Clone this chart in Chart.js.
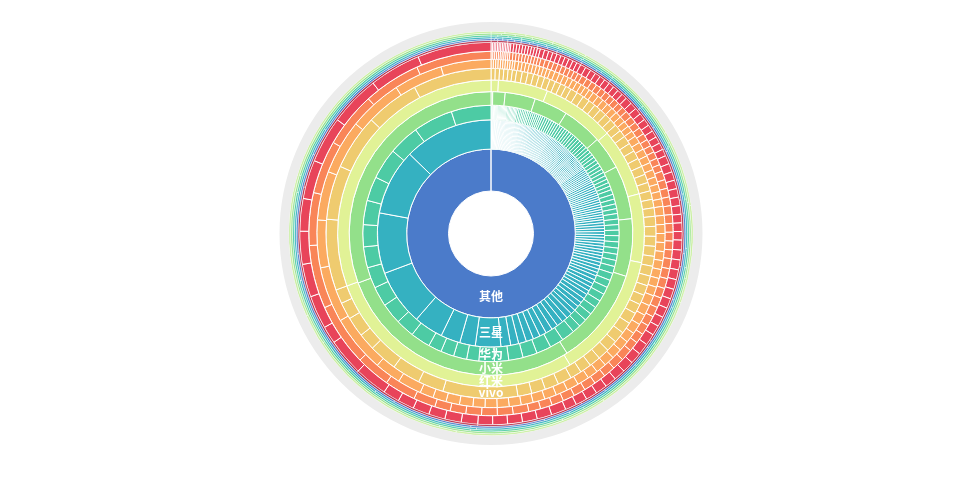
<!DOCTYPE html>
<html>
<head>
<meta charset="utf-8">
<script src="https://cdn.jsdelivr.net/npm/chart.js@4"></script>
<style>
html,body{margin:0;padding:0;background:#fff;}
</style>
</head>
<body>
<canvas id="c" width="980" height="500"></canvas>
<script>
// Ring names (inner to outer), shown at the bottom of each ring
const ringNames = ['其他', '三星', '华为', '小米', '红米', 'vivo'];

// Segment values per ring, clockwise from 12 o'clock (degrees of the ring)
const ring1 = [360];
const ring2 = [
  0.3,0.3,0.3,0.3,0.3,0.35,0.35,0.35,0.35,0.35,0.4,0.4,0.4,0.4,0.4,0.45,0.45,0.45,0.45,0.45,
  0.5,0.5,0.5,0.5,0.5,0.5,0.5,0.5,0.5,0.5,0.55,0.55,0.55,0.55,0.55,0.6,0.6,0.6,0.6,0.6,
  0.65,0.65,0.65,0.65,0.65,0.7,0.7,0.7,0.7,0.7,
  0.7,0.7,0.7,0.7,0.7,0.7,0.7,0.7,0.7,0.7,0.75,0.75,0.75,0.75,0.75,0.75,0.75,0.75,0.75,0.75,
  0.75,0.75,0.75,0.75,0.75,0.75,0.75,0.75,0.75,0.75,0.8,0.8,0.8,0.8,0.8,0.8,0.8,0.8,0.8,0.8,
  1,1,1,1,1,1,1,1,1.2,1.2,1.2,1.2,1.2,1.2,1.2,1.2,1.3,1.3,1.3,1.3,1.3,1.3,1.3,1.3,1.5,1.5,1.5,1.5,1.5,1.5,1.5,1.5,
  1.6,1.6,1.6,1.6,1.6,1.8,1.8,1.8,1.8,1.8,2.1,2.1,2.1,2.1,2.1,2.5,2.5,2.5,2.5,2.5,
  3,3,3.2,3.3,3.5,3.5,3.6,3.8,4,4.1,
  5,13,8,10,15,28.5,31,33.8,45.7
];
const ring3 = [
  0.4,0.4,0.4,0.4,0.4,0.4,0.4,0.4,0.5,0.5,0.5,0.5,0.5,0.5,0.5,0.5,0.6,0.6,0.6,0.6,0.6,0.6,0.6,0.6,
  0.8,0.8,0.8,0.8,0.8,0.8,0.8,0.9,0.9,0.9,0.9,0.9,0.9,0.9,1.1,1.1,1.1,1.1,1.1,1.1,1.1,1.2,1.2,1.2,1.2,1.2,1.2,1.2,
  1.3,1.3,1.3,1.3,1.3,1.4,1.4,1.4,1.4,1.4,1.6,1.6,1.6,1.6,1.6,1.7,1.7,1.7,1.7,1.7,
  2.2,2.2,2.2,2.2,2.2,2.5,2.5,2.5,2.5,2.8,2.8,2.8,2.8,2.8,
  3.2,3.3,3.4,3.4,3.5,3.5,3.6,3.6,3.7,3.8,
  6,6.3,6.7,
  6.5,6.5,6.5,7,5.5,6,6,6,9,8.5,9.5,9,9.5,9.5,10,11,11,14,14,18,18
];
const ring4 = [0.7,5.1,12.4,13.8,16.5,13.5,22,23.6,40,102,110.4];
const ring5 = [2.8,18.8,27.6,25.8,26,48,101,110];
const ring6 = [
  1.5,1.5,1.5,1.5,1.5,1.5,
  2,2,2,2,2,2,2,2,2,2,
  2.5,2.5,2.5,2.5,2.5,2.5,2.5,2.5,2.5,2.5,
  3,3,3,3,3,3,3,3,3,3,
  3.5,3.5,3.5,3.5,3.5,3.5,3.5,3.5,3.5,3.5,
  4,4,4,4,4,4,4,4,
  4.9,4.9,4.9,4.9,
  26.4,9,10,10,6,7,6,5,25,19,19.5,18.9,27.6
];
const ring7 = [
  0.8,0.8,0.8,0.8,0.8,0.8,0.8,0.8,0.8,0.8,
  1.2,1.2,1.2,1.2,1.2,1.2,1.2,1.2,1.2,1.2,
  1.6,1.6,1.6,1.6,1.6,1.6,1.6,1.6,1.6,1.6,
  2,2,2,2,2,2,2,2,2,2,
  2.5,2.5,2.5,2.5,2.5,2.5,2.5,2.5,2.5,2.5,
  3,3,3,3,3,3,3,3,3,3,
  3.5,3.5,3.5,3.5,3.5,3.5,3.5,3.5,3.5,3.5,
  4,4,4,4,4,4,4,4,4,4,
  4.5,4.5,4.5,4.5,
  8,8.8,19.2,18.6,15.9,16.3,18.2,18,16.3,16.7
];
const ring8 = [
  0.6,0.6,0.6,0.6,0.6,0.6,0.6,0.6,0.6,0.6,
  1,1,1,1,1,1,1,1,1,1,
  1.4,1.4,1.4,1.4,1.4,1.4,1.4,1.4,1.4,1.4,
  1.8,1.8,1.8,1.8,1.8,1.8,1.8,1.8,1.8,1.8,
  2.2,2.2,2.2,2.2,2.2,2.2,2.2,2.2,2.2,2.2,
  2.8,2.8,2.8,2.8,2.8,2.8,2.8,2.8,2.8,2.8,
  3.2,3.2,3.2,3.2,3.2,3.2,3.2,3.2,3.2,3.2,
  3.8,3.8,3.8,3.8,3.8,3.8,3.8,3.8,3.8,3.8,
  5,5,5,5,5,5,
  7,10,11,20,20.2,16.8,17,17.7,18.3,24
];
const ring9 = [
  0.5,0.5,0.5,0.5,0.5,0.5,0.5,0.5,0.5,0.5,0.5,0.5,
  0.9,0.9,0.9,0.9,0.9,0.9,0.9,0.9,0.9,0.9,
  1.3,1.3,1.3,1.3,1.3,1.3,1.3,1.3,1.3,1.3,
  1.7,1.7,1.7,1.7,1.7,1.7,1.7,1.7,1.7,1.7,
  2.1,2.1,2.1,2.1,2.1,2.1,2.1,2.1,2.1,2.1,
  2.6,2.6,2.6,2.6,2.6,2.6,2.6,2.6,2.6,2.6,
  3,3,3,3,3,3,3,3,3,3,
  3.5,3.5,3.5,3.5,3.5,3.5,3.5,3.5,3.5,3.5,
  4.5,4.5,4.5,4.5,4.5,4.5,
  5,5,5,5,5,5,
  10,11.3,5.3,10.1,10,10,9.9,11.8,14.1,15.4,15.7,22.4
];
const ring10 = [2,3,4,5,6,8,10,12,14,16,20,24,28,32,40,60,76];
const ring11 = [1,1,1.5,1.5,2,2,2.5,2.5,3,3,4,4,5,5,6,6,7,8,9,10,12,14,16,18,20,22,24,26,28,30,34,32];
const ring12 = [1.5,2,2.5,3,3.5,4,5,6,7,8,10,12,14,16,18,20,24,28,32,40,46,58];
const ring13 = [2,3,4,5,6,8,10,12,14,16,20,24,28,34,40,56,78];
const ring14 = [3,4,5,6,8,10,12,15,18,22,26,30,36,42,50,73];
const ring15 = [4,6,8,10,14,18,22,28,36,44,56,114];
const halo = [360];

// Rings from inner to outer with colour and thickness weight
const rings = [
  {data: ring1,  color: '#4b7bca', weight: 41.5, level: 0},
  {data: ring2,  color: '#35b1c1', weight: 29,   level: 1},
  {data: ring3,  color: '#4dcba4', weight: 14.5, level: 2},
  {data: ring4,  color: '#93e08a', weight: 13.5, level: 3},
  {data: ring5,  color: '#e1f296', weight: 11.5, level: 4},
  {data: ring6,  color: '#efcb6f', weight: 11.5, level: 5},
  {data: ring7,  color: '#fbaa60', weight: 9,    level: 6},
  {data: ring8,  color: '#f98558', weight: 8,    level: 7},
  {data: ring9,  color: '#e8445a', weight: 9,    level: 8},
  {data: ring10, color: '#b82a45', weight: 1.8,  level: 9,  border: 0.5},
  {data: ring11, color: '#4b7bca', weight: 1.8,  level: 10, border: 0.5},
  {data: ring12, color: '#35b1c1', weight: 1.8,  level: 11, border: 0.5},
  {data: ring13, color: '#4dcba4', weight: 1.8,  level: 12, border: 0.5},
  {data: ring14, color: '#93e08a', weight: 1.8,  level: 13, border: 0.5},
  {data: ring15, color: '#c9eea0', weight: 1.8,  level: 14, border: 0.5},
  {data: halo,   color: '#ececec', weight: 9.2,  level: 15, border: 0}
];

const datasets = rings.slice().reverse().map(r => ({
  data: r.data,
  backgroundColor: r.color,
  borderColor: '#ffffff',
  borderWidth: r.border === undefined ? 1 : r.border,
  weight: r.weight,
  level: r.level
}));

const ringLabelPlugin = {
  id: 'ringLabels',
  afterDatasetsDraw(chart) {
    const ctx = chart.ctx;
    ctx.save();
    ctx.font = 'bold 12px "Noto Sans CJK SC", "Noto Sans", sans-serif';
    ctx.fillStyle = '#ffffff';
    ctx.textAlign = 'center';
    ctx.textBaseline = 'middle';
    chart.data.datasets.forEach((ds, i) => {
      const name = ringNames[ds.level];
      if (!name) return;
      const arc = chart.getDatasetMeta(i).data[0];
      if (!arc) return;
      const r = (arc.innerRadius + arc.outerRadius) / 2;
      ctx.fillText(name, arc.x, arc.y + r);
    });
    ctx.restore();
  }
};

new Chart(document.getElementById('c'), {
  type: 'doughnut',
  data: { datasets },
  options: {
    responsive: false,
    devicePixelRatio: 1,
    animation: false,
    cutout: 42.5,
    layout: { padding: { top: 22, bottom: 55, left: 2, right: 0 } },
    plugins: { legend: { display: false }, tooltip: { enabled: false } },
    elements: { arc: { borderAlign: 'center' } }
  },
  plugins: [ringLabelPlugin]
});
</script>
</body>
</html>
